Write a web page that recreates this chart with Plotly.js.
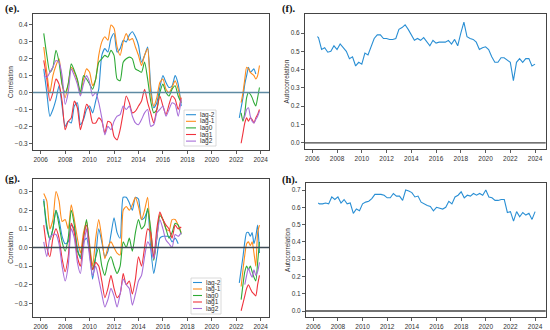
<!DOCTYPE html>
<html>
<head>
<meta charset="utf-8">
<script src="https://cdn.plot.ly/plotly-3.0.1.min.js"></script>
<style>html,body{margin:0;padding:0;background:#fff;}#chart{width:550px;height:330px;}</style>
</head>
<body>
<div id="chart"></div>
<script>
// ---------- data ----------
const mainYears = [2006.25,2006.5,2006.75,2007,2007.25,2007.5,2007.75,2008,2008.25,2008.5,2008.75,2009,2009.25,2009.5,2009.75,2010,2010.25,2010.5,2010.75,2011,2011.25,2011.5,2011.75,2012,2012.25,2012.5,2012.75,2013,2013.25,2013.5,2013.75,2014,2014.25,2014.5,2014.75,2015,2015.25,2015.5,2015.75,2016,2016.25,2016.5,2016.75,2017,2017.25,2017.5];
const gapYear = [2020];
const tailYears = [2022.25,2022.4,2022.55,2022.7,2022.85,2023.0,2023.15,2023.3,2023.45,2023.6,2023.75,2023.9];

const lagNames = ['lag-2','lag-1','lag0','lag1','lag2'];
const lagColors = ['#2a8fd4','#ff8c1c','#2eaa36','#f0333d','#a86fd8'];

// panel (e) cross-correlations
const eLagM2Main = [0.14,0.0,-0.14,-0.10,-0.04,0.04,-0.08,-0.20,-0.17,-0.18,-0.08,-0.06,-0.19,-0.16,-0.10,-0.08,-0.12,-0.05,0.02,0.22,0.26,0.24,0.32,0.35,0.24,0.26,0.31,0.30,0.34,0.36,0.33,0.28,0.18,0.22,0.27,0.04,-0.09,-0.06,0.03,0.10,0.06,0.03,0.04,0.10,0.05,-0.08];
const eLagM1Main = [0.27,0.12,0.0,0.10,0.16,0.20,0.05,-0.03,0.05,0.15,0.12,0.07,-0.01,0.08,0.14,0.12,0.04,0.08,0.22,0.30,0.33,0.31,0.40,0.38,0.27,0.22,0.30,0.35,0.31,0.32,0.27,0.22,0.16,0.22,0.26,0.0,-0.08,-0.03,0.06,0.08,0.02,0.0,0.03,0.07,0.02,-0.06];
const eLag0Main  = [0.35,0.22,0.12,0.15,0.25,0.18,0.05,0.0,0.05,0.17,0.13,0.08,0.0,0.10,0.08,0.05,0.02,0.08,0.18,0.20,0.22,0.21,0.25,0.22,0.08,0.07,0.18,0.20,0.21,0.20,0.14,0.13,0.12,0.18,0.08,-0.05,-0.12,-0.10,0.0,0.05,0.0,-0.02,0.02,0.04,-0.02,-0.06];
const eLag1Main  = [0.19,0.08,-0.05,0.0,0.08,0.05,-0.05,-0.22,-0.17,-0.15,-0.05,-0.09,-0.22,-0.15,-0.07,-0.10,-0.18,-0.18,-0.15,-0.17,-0.24,-0.17,-0.18,-0.26,-0.28,-0.22,-0.12,-0.02,-0.06,-0.12,-0.11,-0.08,-0.05,0.02,-0.06,-0.12,-0.18,-0.10,-0.02,-0.08,-0.13,-0.07,-0.02,-0.04,-0.10,-0.03];
const eLag2Main  = [0.10,0.09,0.12,0.15,0.19,0.18,0.10,-0.07,0.0,0.14,0.10,0.05,-0.02,0.05,0.10,0.06,-0.02,0.0,-0.06,-0.15,-0.25,-0.20,-0.22,-0.17,-0.14,-0.13,-0.08,-0.10,-0.08,-0.14,-0.18,-0.19,-0.16,-0.12,-0.10,-0.20,-0.19,-0.12,-0.10,-0.08,-0.14,-0.10,-0.06,-0.07,-0.14,-0.04];
const eLagM2Tail = [-0.15,-0.09,-0.03,0.05,0.10,0.15,0.12,0.13,0.14,0.11,null,null];
const eLagM1Tail = [null,-0.06,0.0,0.08,0.15,0.14,0.12,0.11,0.10,0.08,0.10,0.16];
const eLag0Tail  = [null,-0.12,-0.17,-0.12,-0.03,0.0,-0.01,-0.03,-0.06,-0.08,-0.03,0.03];
const eLag1Tail  = [null,-0.30,-0.24,-0.18,-0.15,-0.17,-0.15,-0.16,-0.18,-0.15,-0.13,-0.10];
const eLag2Tail  = [null,null,-0.16,-0.14,-0.10,-0.09,-0.14,-0.17,-0.18,-0.16,-0.14,-0.11];

// panel (g) cross-correlations
const gLagM2Main = [0.26,0.10,0.05,0.10,0.20,0.15,0.06,0.02,0.03,0.12,0.10,0.0,-0.06,0.03,0.05,-0.03,-0.17,-0.05,0.10,0.03,-0.05,-0.02,0.07,0.16,0.08,0.05,0.27,0.27,0.24,0.20,0.27,0.26,0.15,0.16,0.20,0.0,-0.14,-0.05,0.05,0.06,0.06,0.06,0.03,0.05,0.02,null];
const gLagM1Main = [0.29,0.25,0.10,0.15,0.30,0.25,0.14,0.15,0.10,0.23,0.15,0.05,-0.03,0.08,0.14,0.02,-0.10,0.05,0.15,0.05,-0.06,0.0,0.03,0.0,-0.03,-0.04,0.20,0.22,0.20,0.23,0.27,0.22,0.15,0.20,0.27,0.05,-0.06,0.05,0.18,0.15,0.10,0.09,0.15,0.15,0.12,0.08];
const gLag0Main  = [0.25,0.12,0.04,0.10,0.20,0.12,0.03,-0.02,0.05,0.20,0.12,-0.02,-0.05,0.05,0.15,0.0,-0.12,-0.05,0.0,-0.10,-0.15,-0.08,-0.05,-0.10,-0.14,-0.10,0.03,0.0,0.05,-0.02,0.08,0.15,0.10,0.12,0.21,0.10,-0.07,0.05,0.17,0.15,0.10,0.05,0.08,0.13,0.12,0.07];
const gLag1Main  = [0.12,0.0,-0.05,0.05,0.10,0.05,-0.06,-0.13,-0.05,0.13,0.08,-0.05,-0.10,0.05,0.12,-0.02,-0.12,-0.08,-0.10,-0.18,-0.27,-0.22,-0.15,-0.22,-0.27,-0.25,-0.14,-0.20,-0.18,-0.25,-0.17,-0.05,-0.10,0.0,0.10,0.08,-0.06,0.10,0.19,0.15,0.12,0.10,0.05,0.12,0.10,0.11];
const gLag2Main  = [0.03,-0.05,0.05,0.07,0.07,0.02,-0.10,-0.18,-0.10,0.10,0.05,-0.08,-0.14,0.0,0.10,-0.05,-0.15,-0.10,-0.17,-0.25,-0.32,-0.28,-0.22,-0.26,-0.32,-0.25,-0.17,-0.20,-0.22,-0.31,-0.25,-0.18,-0.15,-0.05,0.03,0.0,-0.06,0.05,0.15,0.10,0.04,0.02,0.0,0.07,0.06,0.08];
const gLagM2Tail = [-0.19,-0.12,-0.05,0.03,0.08,0.08,0.06,0.08,0.02,0.06,0.12,-0.03];
const gLagM1Tail = [null,-0.21,-0.12,-0.04,0.02,0.03,0.01,0.03,-0.03,-0.10,0.08,0.12];
const gLag0Tail  = [null,-0.28,-0.20,-0.13,-0.10,-0.12,-0.10,-0.13,-0.16,-0.18,-0.08,0.03];
const gLag1Tail  = [null,-0.34,-0.30,-0.26,-0.22,-0.20,-0.22,-0.24,-0.25,-0.26,-0.20,-0.15];
const gLag2Tail  = [null,null,null,-0.20,-0.15,-0.11,-0.14,-0.16,-0.12,-0.15,-0.13,-0.08];

// autocorrelation panels (f) and (h)
const acYears = [2006.4,2006.5,2006.75,2007,2007.25,2007.5,2007.75,2008,2008.25,2008.5,2008.75,2009,2009.25,2009.5,2009.75,2010,2010.25,2010.5,2010.75,2011,2011.25,2011.5,2011.75,2012,2012.25,2012.5,2012.75,2013,2013.25,2013.5,2013.75,2014,2014.25,2014.5,2014.75,2015,2015.25,2015.5,2015.75,2016,2016.25,2016.5,2016.75,2017,2017.25,2017.5,2017.75,2018,2018.25,2018.5,2018.75,2019,2019.25,2019.5,2019.75,2020,2020.25,2020.5,2020.75,2021,2021.25,2021.5,2021.75,2022,2022.25,2022.5,2022.75,2023,2023.25,2023.5,2023.75,2024];
const fAuto = [0.58,0.575,0.51,0.52,0.495,0.50,0.53,0.51,0.54,0.52,0.50,0.46,0.47,0.42,0.44,0.43,0.49,0.48,0.52,0.57,0.59,0.59,0.57,0.57,0.565,0.565,0.57,0.62,0.63,0.645,0.62,0.59,0.56,0.57,0.56,0.575,0.55,0.53,0.56,0.545,0.55,0.55,0.55,0.56,0.54,0.565,0.53,0.60,0.66,0.58,0.57,0.565,0.55,0.51,0.52,0.525,0.51,0.47,0.44,0.44,0.465,0.465,0.45,0.44,0.34,0.44,0.46,0.44,0.46,0.46,0.42,0.43];
const hAuto = [0.625,0.62,0.62,0.625,0.62,0.66,0.645,0.66,0.625,0.645,0.62,0.625,0.565,0.59,0.58,0.62,0.63,0.635,0.65,0.675,0.675,0.675,0.67,0.655,0.655,0.68,0.665,0.665,0.64,0.70,0.695,0.685,0.66,0.665,0.63,0.62,0.61,0.605,0.58,0.60,0.595,0.59,0.60,0.635,0.62,0.66,0.67,0.69,0.655,0.67,0.665,0.68,0.67,0.68,0.67,0.70,0.66,0.655,0.64,0.64,0.645,0.645,0.57,0.575,0.52,0.575,0.545,0.57,0.555,0.565,0.53,0.575];

const xTickVals = [2006,2008,2010,2012,2014,2016,2018,2020,2022,2024];
const eTicks = [-0.3,-0.2,-0.1,0.0,0.1,0.2,0.3,0.4];
const gTicks = [-0.3,-0.2,-0.1,0.0,0.1,0.2,0.3];
const fTicks = [0.0,0.1,0.2,0.3,0.4,0.5,0.6];
const hTicks = [0.0,0.1,0.2,0.3,0.4,0.5,0.6,0.7];
const panelLabels = ['(e).','(f).','(g).','(h).'];

// ---------- build ----------
const W = 550, H = 330;
const px = v => v / W;
const py = v => 1 - v / H;
const years = mainYears.concat(gapYear, tailYears);
const join = (m, t) => m.concat([null], t);

const eSeries = [join(eLagM2Main,eLagM2Tail), join(eLagM1Main,eLagM1Tail), join(eLag0Main,eLag0Tail), join(eLag1Main,eLag1Tail), join(eLag2Main,eLag2Tail)];
const gSeries = [join(gLagM2Main,gLagM2Tail), join(gLagM1Main,gLagM1Tail), join(gLag0Main,gLag0Tail), join(gLag1Main,gLag1Tail), join(gLag2Main,gLag2Tail)];

const traces = [];
eSeries.forEach((ys, i) => traces.push({x: years, y: ys, type: 'scatter', mode: 'lines', name: lagNames[i], xaxis: 'x', yaxis: 'y', line: {color: lagColors[i], width: 1.1, shape: 'spline', smoothing: 0.6}, connectgaps: false, showlegend: false}));
traces.push({x: acYears, y: fAuto, type: 'scatter', mode: 'lines', name: 'autocorrelation', xaxis: 'x2', yaxis: 'y2', line: {color: lagColors[0], width: 1.1}, showlegend: false});
gSeries.forEach((ys, i) => traces.push({x: years, y: ys, type: 'scatter', mode: 'lines', name: lagNames[i], xaxis: 'x3', yaxis: 'y3', line: {color: lagColors[i], width: 1.1, shape: 'spline', smoothing: 0.6}, connectgaps: false, showlegend: false}));
traces.push({x: acYears, y: hAuto, type: 'scatter', mode: 'lines', name: 'autocorrelation', xaxis: 'x4', yaxis: 'y4', line: {color: lagColors[0], width: 1.1}, showlegend: false});

const tickFont = {family: 'Liberation Sans, Arial, sans-serif', size: 6.5, color: '#333'};
function xAx(anchor, l, r, range) {
  return {anchor: anchor, domain: [px(l), px(r)], range: range, tickvals: xTickVals, ticktext: xTickVals.map(String),
    ticks: 'outside', ticklen: 3, tickwidth: 0.8, tickcolor: '#333', showline: true, mirror: true, linecolor: '#444', linewidth: 1,
    showgrid: false, zeroline: false, tickfont: tickFont};
}
function yAx(anchor, t, b, range, ticks, title) {
  return {anchor: anchor, domain: [py(b), py(t)], range: range, tickvals: ticks, tickformat: '.1f',
    ticks: 'outside', ticklen: 3, tickwidth: 0.8, tickcolor: '#333', showline: true, mirror: true, linecolor: '#444', linewidth: 1,
    showgrid: false, zeroline: false, tickfont: tickFont,
    title: {text: title, font: {family: 'Liberation Sans, Arial, sans-serif', size: 6.5, color: '#333'}, standoff: 0}};
}

const shapes = [
  {type: 'line', xref: 'x domain', yref: 'y', x0: 0, x1: 1, y0: 0, y1: 0, line: {color: '#5e8aa3', width: 1.6}, layer: 'above'},
  {type: 'line', xref: 'x2 domain', yref: 'y2', x0: 0, x1: 1, y0: 0, y1: 0, line: {color: '#444', width: 1.3}},
  {type: 'line', xref: 'x3 domain', yref: 'y3', x0: 0, x1: 1, y0: 0, y1: 0, line: {color: '#3d4a55', width: 1.5}, layer: 'above'},
  {type: 'line', xref: 'x4 domain', yref: 'y4', x0: 0, x1: 1, y0: 0, y1: 0, line: {color: '#444', width: 1.3}}
];
const annotations = [];

// panel labels
[[3, 9], [280, 9], [3, 179], [280, 180]].forEach((p, i) => annotations.push({
  xref: 'paper', yref: 'paper', x: px(p[0]), y: py(p[1]), xanchor: 'left', yanchor: 'middle', showarrow: false,
  text: '<b>' + panelLabels[i] + '</b>', font: {family: 'Liberation Serif, Times New Roman, serif', size: 10.5, color: '#111'}
}));

// legends (matplotlib-style boxes)
function addLegend(left, top, right, bottom, lineX0, lineX1, textX, firstY, step) {
  shapes.push({type: 'rect', xref: 'paper', yref: 'paper', x0: px(left), x1: px(right), y0: py(bottom), y1: py(top),
    line: {color: '#d0d0d0', width: 0.8}, fillcolor: 'rgba(255,255,255,0.85)', layer: 'above'});
  lagNames.forEach((n, i) => {
    const yy = firstY + i * step;
    shapes.push({type: 'line', xref: 'paper', yref: 'paper', x0: px(lineX0), x1: px(lineX1), y0: py(yy), y1: py(yy),
      line: {color: lagColors[i], width: 1.1}, layer: 'above'});
    annotations.push({xref: 'paper', yref: 'paper', x: px(textX), y: py(yy), xanchor: 'left', yanchor: 'middle', showarrow: false,
      text: n, font: {family: 'Liberation Sans, Arial, sans-serif', size: 6.5, color: '#333'}});
  });
}
addLegend(184, 110, 216, 146, 186, 196, 198, 114.7, 6.6);
addLegend(191, 278, 221, 314, 193, 202, 204, 282.5, 6.5);

const layout = {
  width: W, height: H, margin: {l: 0, r: 0, t: 0, b: 0}, paper_bgcolor: '#fff', plot_bgcolor: '#fff', showlegend: false,
  xaxis: xAx('y', 33, 269, [2005.37, 2024.68]),
  yaxis: yAx('x', 14, 150, [-0.34, 0.465], eTicks, 'Correlation'),
  xaxis2: xAx('y2', 305, 545.7, [2005.41, 2024.86]),
  yaxis2: yAx('x2', 14, 149, [-0.034, 0.704], fTicks, 'Autocorrelation'),
  xaxis3: xAx('y3', 33, 269, [2005.37, 2024.68]),
  yaxis3: yAx('x3', 179, 316.7, [-0.372, 0.368], gTicks, 'Correlation'),
  xaxis4: xAx('y4', 306, 545.7, [2005.41, 2024.86]),
  yaxis4: yAx('x4', 183.3, 316.7, [-0.033, 0.739], hTicks, 'Autocorrelation'),
  shapes: shapes, annotations: annotations
};

Plotly.newPlot('chart', traces, layout, {displayModeBar: false, staticPlot: true});
</script>
</body>
</html>
